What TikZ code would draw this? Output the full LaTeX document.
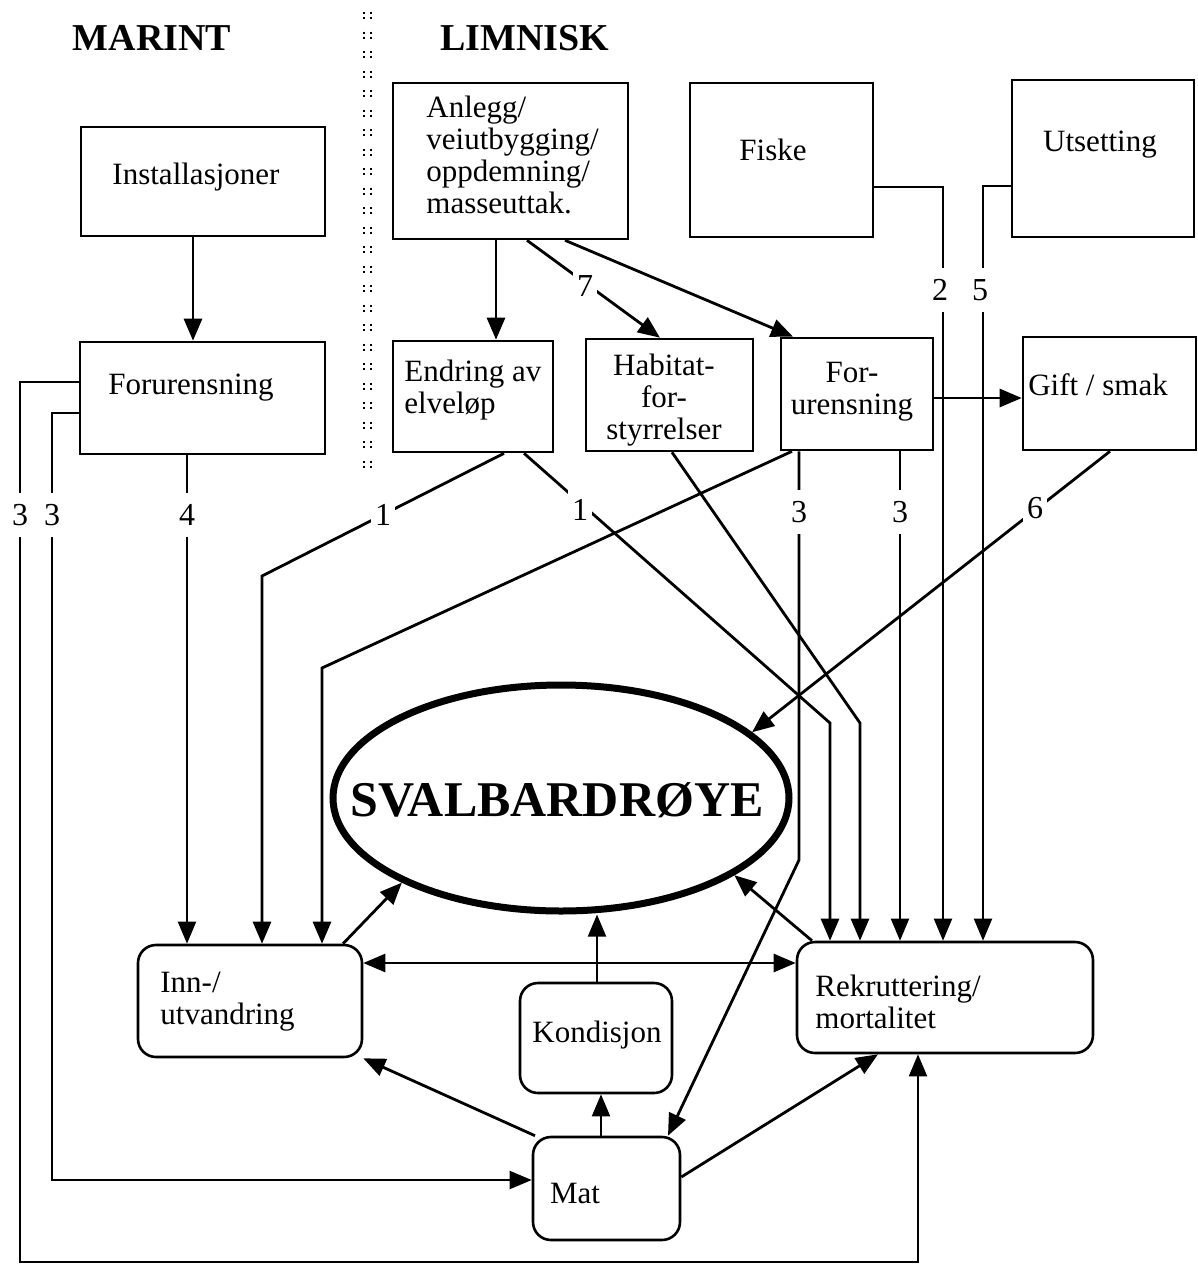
\documentclass[tikz,border=0pt]{standalone}
\usepackage{fontspec}
\setmainfont{Liberation Serif}
\usetikzlibrary{arrows.meta,fit,shapes.geometric}
\begin{document}
\begin{tikzpicture}[x=0.5pt,y=-0.5pt,
  box/.style={draw, line width=1.3pt, inner sep=0pt, rectangle},
  rbox/.style={box, rounded corners=9pt},
  txt/.style={inner sep=0pt, font=\fontsize{15.5pt}{16pt}\selectfont},
  head/.style={inner sep=0pt, anchor=base, font=\fontsize{19pt}{22pt}\selectfont\bfseries},
  tip/.style={-{Triangle[length=11pt,width=9pt]}},
  conn/.style={line width=1.4pt, tip},
  thinconn/.style={line width=1pt, tip},
  lbl/.style={fill=white, inner xsep=2pt, inner ysep=5.5pt, font=\fontsize{16pt}{18pt}\selectfont},
  dotcol/.style={line width=1.2pt, dash pattern=on 1.1pt off 1.5pt on 1.1pt off 6.05pt}
]
\useasboundingbox (0,0) rectangle (1198,1265);

% headings and the dotted divider
\node[head] (marint) at (152,50) {MARINT};
\node[head] (limnisk) at (525,50) {LIMNISK};
\draw[dotcol] (364,12) -- (364,472);
\draw[dotcol] (371,12) -- (371,472);

% square boxes
\node[box, fit={(81,127) (325,236)}] (inst) {};
\node[txt] (inst-t) at (196,177) {Installasjoner};
\node[box, fit={(80,342) (325,454)}] (forM) {};
\node[txt] (forM-t) at (191,388) {Forurensning};
\node[box, fit={(393,83) (628,239)}] (anl) {};
\node[txt, align=left, anchor=north west] (anl-t) at (426,96) {Anlegg/\\veiutbygging/\\oppdemning/\\masseuttak.};
\node[box, fit={(690,83) (873,237)}] (fiske) {};
\node[txt] (fiske-t) at (773,150) {Fiske};
\node[box, fit={(1012,80) (1194,237)}] (uts) {};
\node[txt] (uts-t) at (1100,145) {Utsetting};
\node[box, fit={(393,341) (553,452)}] (endr) {};
\node[txt, align=left, anchor=north west] (endr-t) at (404,360) {Endring av\\elveløp};
\node[box, fit={(586,339) (753,451)}] (hab) {};
\node[txt, align=center, anchor=north] (hab-t) at (664,354) {Habitat-\\for-\\styrrelser};
\node[box, fit={(781,338) (933,450)}] (forL) {};
\node[txt, align=center, anchor=north] (forL-t) at (852,362) {For-\\urensning};
\node[box, fit={(1023,337) (1196,450)}] (gift) {};
\node[txt] (gift-t) at (1098,385) {Gift / smak};

% rounded boxes
\node[rbox, fit={(138,945) (362,1057)}] (inn) {};
\node[txt, align=left, anchor=west] (inn-t) at (160,1002) {Inn-/\\utvandring};
\node[rbox, fit={(520,983) (672,1093)}] (kon) {};
\node[txt] (kon-t) at (597,1035) {Kondisjon};
\node[rbox, fit={(533,1137) (680,1240)}] (mat) {};
\node[txt] (mat-t) at (575,1193) {Mat};
\node[rbox, fit={(797,942) (1093,1053)}] (rek) {};
\node[txt, align=left, anchor=west] (rek-t) at (815,1002) {Rekruttering/\\mortalitet};

% central ellipse and its title
\node[ellipse, draw, line width=3.5pt, minimum width=228pt, minimum height=113pt, inner sep=0pt] (svb) at (561,798) {};
\node[inner sep=0pt, font=\fontsize{25pt}{28pt}\selectfont\bfseries] (svb-t) at (557,800) {SVALBARDRØYE};

% marine connectors
\draw[conn] (inst.south -| 193,0) -- (forM.north -| 193,0);
\draw[thinconn] (forM.south -| 187,0) -- (inn.north -| 187,0);
\draw[thinconn] (forM.west |- 0,382) -| (20,1262) -| (rek.south -| 918,0);
\draw[thinconn] (forM.west |- 0,413) -| (52,1180) -- (mat.west |- 0,1180);

% limnic connectors
\draw[conn] (anl.south -| 496,0) -- (endr.north -| 496,0);
\draw[conn] (anl.south -| 527,0) -- (hab.north -| 660,0);
\draw[conn] (anl.south -| 565,0) -- (forL.north -| 793,0);
\draw[conn] (forL.east |- 0,398) -- (gift.west |- 0,398);
\draw[thinconn] (fiske.east |- 0,187) -| (rek.north -| 943,0);
\draw[thinconn] (uts.west |- 0,186) -| (rek.north -| 983,0);
\draw[conn] (endr.south -| 504,0) -- (262,576) -- (inn.north -| 262,0);
\draw[conn] (endr.south -| 524,0) -- (830,723) -- (rek.north -| 830,0);
\draw[conn] (hab.south -| 672,0) -- (860,723) -- (rek.north -| 860,0);
\draw[conn] (forL.south -| 792,0) -- (322,668) -- (inn.north -| 322,0);
\draw[conn] (forL.south -| 799,0) -- (799,860) -- (mat.north -| 668,0);
\draw[thinconn] (forL.south -| 900,0) -- (rek.north -| 900,0);
\draw[conn] (gift.south -| 1110,0) -- (svb.19);

% links around the central node
\draw[conn] (inn.north -| 343,0) -- (svb.208.7);
\draw[conn] (rek.north -| 812,0) -- (svb.336.5);
\draw[thinconn] (kon.north -| 597,0) -- (svb.south -| 597,0);
\draw[line width=1.4pt, {Triangle[length=11pt,width=9pt]}-{Triangle[length=11pt,width=9pt]}] (inn.east |- 0,963) -- (rek.west |- 0,963);
\draw[conn] (mat.north -| 535,0) -- (inn.south east);
\draw[thinconn] (mat.north -| 601,0) -- (kon.south -| 601,0);
\draw[conn] (mat.east |- 0,1177) -- (rek.south -| 878,0);

% numbered labels on the connectors
\node[lbl] (n3a) at (20,515) {3};
\node[lbl] (n3b) at (52,515) {3};
\node[lbl] (n4) at (187,515) {4};
\node[lbl] (n1a) at (383,515) {1};
\node[lbl] (n1b) at (580,510) {1};
\node[lbl] (n3c) at (799,512) {3};
\node[lbl] (n3d) at (900,512) {3};
\node[lbl] (n6) at (1035,508) {6};
\node[lbl] (n2) at (940,290) {2};
\node[lbl] (n5) at (980,290) {5};
\node[lbl] (n7) at (585,286) {7};
\end{tikzpicture}
\end{document}
